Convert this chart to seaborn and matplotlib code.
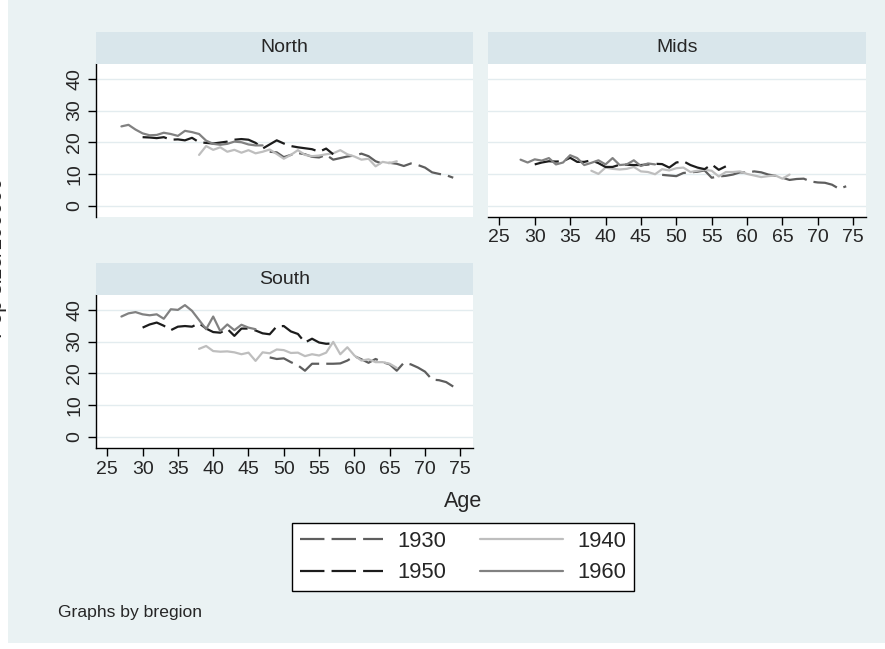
import matplotlib
matplotlib.use("Agg")
import matplotlib.pyplot as plt
import seaborn as sns
import pandas as pd
from matplotlib.patches import Rectangle

# ---------------- data ----------------
regions = ["North", "Mids", "South"]
cohorts = ["1930", "1940", "1950", "1960"]

ages_1930 = [48, 49, 50, 51, 52, 53, 54, 55, 56, 57, 58, 59, 60, 61, 62, 63, 64, 65, 66, 67, 68, 69, 70, 71, 72, 73, 74]
ages_1940 = [38, 39, 40, 41, 42, 43, 44, 45, 46, 47, 48, 49, 50, 51, 52, 53, 54, 55, 56, 57, 58, 59, 60, 61, 62, 63, 64, 65, 66]
ages_1950 = [30, 31, 32, 33, 34, 35, 36, 37, 38, 39, 40, 41, 42, 43, 44, 45, 46, 47, 48, 49, 50, 51, 52, 53, 54, 55, 56, 57]
ages_1960_north = [27, 28, 29, 30, 31, 32, 33, 34, 35, 36, 37, 38, 39, 40, 41, 42, 43, 44, 45, 46, 47]
ages_1960_mids = [28, 29, 30, 31, 32, 33, 34, 35, 36, 37, 38, 39, 40, 41, 42, 43, 44, 45, 46, 47]
ages_1960_south = [27, 28, 29, 30, 31, 32, 33, 34, 35, 36, 37, 38, 39, 40, 41, 42, 43, 44, 45, 46]

north_1930 = [17.0, 16.8, 15.3, 16.0, 16.6, 16.2, 15.4, 15.2, 16.0, 14.5, 15.0, 15.5, 15.8, 16.4, 15.6, 14.0, 13.2, 13.5, 13.2, 12.5, 13.3, 12.8, 12.0, 10.5, 10.0, 9.6, 8.8]
north_1940 = [16.0, 18.8, 17.6, 18.4, 17.0, 17.6, 16.7, 17.5, 16.5, 17.0, 17.7, 16.3, 14.8, 16.0, 17.5, 16.0, 15.6, 15.8, 16.2, 16.5, 17.5, 16.2, 15.5, 14.5, 14.8, 12.4, 13.8, 13.4, 14.0]
north_1950 = [21.6, 21.5, 21.3, 21.6, 20.8, 20.9, 20.6, 21.4, 20.0, 19.8, 19.6, 19.9, 20.2, 20.8, 21.0, 20.8, 19.8, 18.0, 19.3, 20.6, 19.6, 18.8, 18.4, 18.1, 17.8, 17.0, 18.0, 16.2]
north_1960 = [25.0, 25.5, 24.0, 22.8, 22.2, 22.3, 23.0, 22.6, 22.0, 23.6, 23.2, 22.6, 20.5, 19.5, 19.2, 19.5, 20.2, 20.0, 19.3, 19.0, 19.0]

mids_1930 = [9.7, 9.5, 9.3, 10.3, 10.5, 10.7, 11.1, 8.8, 9.2, 9.4, 9.8, 10.5, 10.4, 10.8, 10.5, 9.8, 9.4, 8.8, 8.1, 8.4, 8.5, 7.6, 7.3, 7.2, 6.6, 5.3, 6.1]
mids_1940 = [11.0, 10.0, 12.0, 11.6, 11.4, 11.6, 12.2, 10.8, 10.6, 9.9, 11.5, 11.1, 11.8, 12.0, 10.6, 11.0, 11.3, 11.0, 9.2, 10.6, 10.6, 10.8, 10.0, 9.5, 9.0, 9.3, 9.5, 8.5, 9.8]
mids_1950 = [13.0, 13.6, 14.0, 13.9, 14.0, 15.1, 13.8, 13.8, 14.3, 13.4, 12.2, 12.2, 12.9, 12.9, 12.8, 12.8, 13.0, 13.2, 13.1, 12.0, 13.6, 14.0, 12.8, 12.0, 11.5, 13.0, 11.3, 12.4]
mids_1960 = [14.5, 13.6, 14.6, 14.2, 15.0, 13.0, 13.6, 15.9, 15.0, 12.8, 13.5, 14.3, 13.0, 15.0, 12.8, 13.0, 14.3, 12.5, 13.3, 13.0]

south_1930 = [25.0, 24.5, 24.7, 23.5, 22.5, 20.8, 23.0, 23.0, 23.0, 23.0, 23.1, 24.0, 25.4, 24.4, 23.3, 24.5, 23.5, 22.8, 20.8, 23.3, 22.8, 21.8, 20.5, 18.0, 17.8, 17.2, 15.8]
south_1940 = [27.7, 28.6, 27.0, 26.8, 26.9, 26.6, 26.0, 26.5, 23.9, 26.6, 26.3, 27.5, 27.3, 26.4, 26.5, 25.4, 26.0, 25.6, 26.5, 29.9, 26.0, 28.2, 25.6, 24.0, 24.4, 23.5, 23.5, 23.0, 21.7]
south_1950 = [34.4, 35.4, 36.0, 35.0, 33.6, 34.7, 34.9, 34.7, 35.8, 34.1, 33.0, 32.8, 34.0, 31.8, 34.1, 34.1, 33.5, 32.6, 32.3, 34.8, 34.9, 33.2, 32.4, 29.7, 30.9, 29.7, 29.3, 29.4]
south_1960 = [37.9, 38.9, 39.3, 38.6, 38.3, 38.6, 37.2, 40.2, 40.0, 41.5, 39.7, 36.8, 33.9, 37.9, 33.3, 35.4, 33.6, 35.3, 34.4, 33.9]

x_ticks = [25, 30, 35, 40, 45, 50, 55, 60, 65, 70, 75]
y_ticks = [0, 10, 20, 30, 40]

series = [
    ("North", "1930", ages_1930, north_1930),
    ("North", "1940", ages_1940, north_1940),
    ("North", "1950", ages_1950, north_1950),
    ("North", "1960", ages_1960_north, north_1960),
    ("Mids", "1930", ages_1930, mids_1930),
    ("Mids", "1940", ages_1940, mids_1940),
    ("Mids", "1950", ages_1950, mids_1950),
    ("Mids", "1960", ages_1960_mids, mids_1960),
    ("South", "1930", ages_1930, south_1930),
    ("South", "1940", ages_1940, south_1940),
    ("South", "1950", ages_1950, south_1950),
    ("South", "1960", ages_1960_south, south_1960),
]
rows = []
for reg, coh, ages, vals in series:
    for a, v in zip(ages, vals):
        rows.append({"bregion": reg, "cohort": coh, "age": a, "pop": v})
df = pd.DataFrame(rows)

# ---------------- style ----------------
sns.set_style("white")
plt.rcParams["font.family"] = ["Liberation Sans", "DejaVu Sans"]

BG = "#EAF2F3"
STRIP = "#D9E6EB"
GRID = "#E3ECEF"
palette = {"1930": "#5E5E5E", "1940": "#BEBEBE", "1950": "#1C1C1C", "1960": "#818181"}
dashes = {"1930": (11, 3.2), "1940": "", "1950": (11, 3.2), "1960": ""}

W, H = 885, 649
fig = plt.figure(figsize=(W / 100, H / 100), dpi=100)
fig.patch.set_facecolor("white")
fig.patches.append(Rectangle((8 / W, 6 / H), 1 - 8 / W, 1 - 6 / H,
                             transform=fig.transFigure, facecolor=BG,
                             edgecolor="none", zorder=-10))


def px_axes(x0, y0, x1, y1):
    return [x0 / W, 1 - y1 / H, (x1 - x0) / W, (y1 - y0) / H]


panel_px = {
    "North": (96, 64, 473, 217),
    "Mids": (488, 64, 866, 217),
    "South": (96, 295, 473, 448),
}
TICK_FS = 14
handles = labels = None
for i, reg in enumerate(regions):
    x0, y0, x1, y1 = panel_px[reg]
    ax = fig.add_axes(px_axes(x0, y0, x1, y1))
    sub = df[df["bregion"] == reg]
    sns.lineplot(data=sub, x="age", y="pop", hue="cohort", style="cohort",
                 hue_order=cohorts, style_order=cohorts, palette=palette,
                 dashes=dashes, linewidth=1.6, errorbar=None, ax=ax,
                 legend=(i == 0))
    if i == 0:
        handles, labels = ax.get_legend_handles_labels()
        ax.get_legend().remove()
    ax.set_facecolor("white")
    ax.set_xlim(23.4, 76.8)
    ax.set_ylim(-3.6, 44.7)
    ax.set_xticks(x_ticks)
    ax.set_yticks(y_ticks)
    ax.yaxis.grid(True, color=GRID, linewidth=1.0)
    ax.xaxis.grid(False)
    ax.set_axisbelow(True)
    ax.set_xlabel("")
    ax.set_ylabel("")
    for s in ax.spines.values():
        s.set_visible(False)
        s.set_linewidth(1.0)
        s.set_color("black")
    show_y = reg in ("North", "South")
    show_x = reg in ("Mids", "South")
    ax.spines["left"].set_visible(show_y)
    ax.spines["bottom"].set_visible(show_x)
    ax.tick_params(axis="y", left=show_y, labelleft=show_y, length=6,
                   width=1.0, color="black", labelsize=TICK_FS,
                   labelrotation=90, pad=3)
    for t in ax.get_yticklabels():
        t.set_va("center")
    ax.tick_params(axis="x", bottom=show_x, labelbottom=show_x, length=6,
                   width=1.0, color="black", labelsize=TICK_FS, pad=3)
    # strip
    sax = fig.add_axes(px_axes(x0, y0 - 32, x1, y0))
    sax.set_facecolor(STRIP)
    sax.set_xticks([])
    sax.set_yticks([])
    for s in sax.spines.values():
        s.set_visible(False)
    sax.text(0.5, 0.5, reg, ha="center", va="center", fontsize=TICK_FS,
             transform=sax.transAxes)

# axis titles
fig.text(463 / W, 1 - 502 / H, "Age", ha="center", va="center", fontsize=15.5)
fig.text(2.5 / W, 1 - 258 / H, "Pop size/100000", rotation=90,
         rotation_mode="anchor", ha="center", va="baseline", fontsize=15.5)

# legend (row-wise: 1930, 1940 / 1950, 1960)
order = [labels.index(c) for c in ["1930", "1950", "1940", "1960"]]
leg = fig.legend([handles[k] for k in order], [labels[k] for k in order],
                 ncol=2, loc="center", bbox_to_anchor=(463 / W, 1 - 557 / H),
                 fontsize=15.8, handlelength=3.8, handletextpad=0.64,
                 columnspacing=1.55, labelspacing=0.48, borderpad=0.36,
                 frameon=True, fancybox=False, framealpha=1,
                 edgecolor="black", facecolor="white")
leg.get_frame().set_linewidth(1.0)

fig.text(58 / W, 1 - 613 / H, "Graphs by bregion", ha="left", va="center",
         fontsize=12.6)

fig.savefig("out.png", dpi=100)
